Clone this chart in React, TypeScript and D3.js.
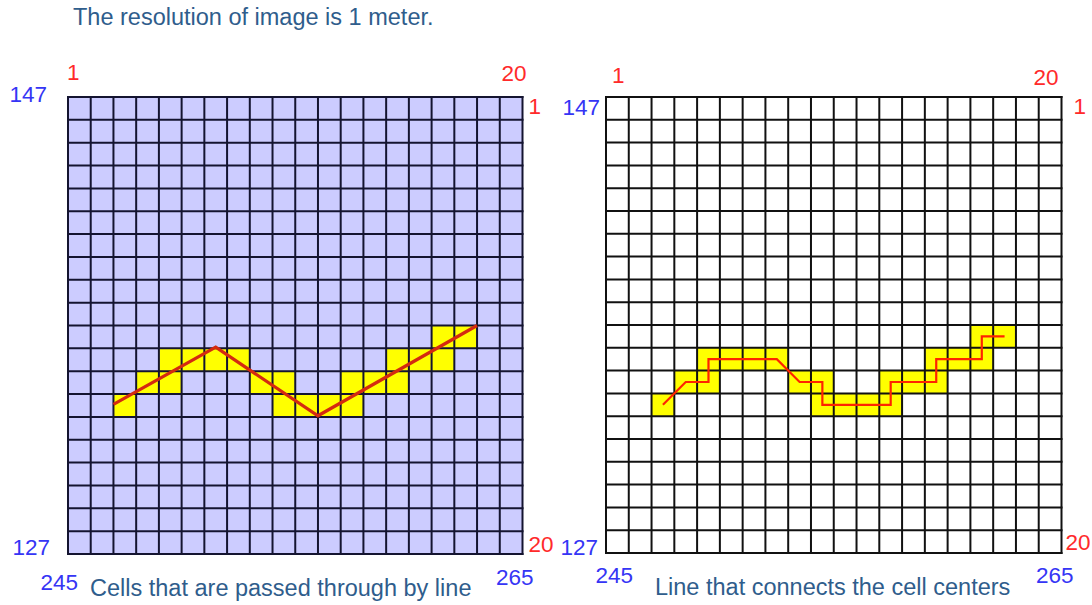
import React from "react";
import * as d3 from "d3";

// ---------- data ----------
const GRID_N = 20;
// yellow cells (column index 0-19, row index 0-19) in path order
const pathCellCols = [2, 3, 4, 4, 5, 6, 7, 8, 9, 9, 10, 11, 12, 12, 13, 14, 14, 15, 16, 16, 17];
const pathCellRows = [13, 12, 12, 11, 11, 11, 11, 12, 12, 13, 13, 13, 13, 12, 12, 12, 11, 11, 11, 10, 10];
// vertices of the original polyline in grid units
const lineX = [2.0, 6.5, 11.0, 18.0];
const lineY = [13.45, 10.95, 13.95, 10.0];
// labels
const colLabels = ["1", "20"];
const rowLabels = ["1", "20"];
const eastLabels = ["245", "265"];
const northLabels = ["147", "127"];
const titleText = "The resolution of image is 1 meter.";
const captions = ["Cells that are passed through by line", "Line that connects the cell centers"];

// ---------- layout ----------
const W = 1092, H = 605;
const FONT = "'Liberation Sans', Arial, sans-serif";
const BLUE = "#3535f5";
const RED = "#ff2a2a";
const TEXT = "#2f5d8c";

const panels = [
  {
    x0: 68, x1: 522.5, y0: 97, y1: 554, fill: "#ccccff", gridColor: "#141430",
    lineColor: "#d42a10", lineWidth: 3.2, mode: "line", captionX: 90, captionY: 596,
    off: { topL: [-1, -17], topR: [4, -16], rightT: [6, 17], leftT: [-21, 5], leftB: [-18, 1], rightB: [6, -2], botL: [10, 36], botR: [11, 31] },
  },
  {
    x0: 606, x1: 1061.5, y0: 97, y1: 553, fill: "#ffffff", gridColor: "#111111",
    lineColor: "#ff2400", lineWidth: 2.2, mode: "centers", captionX: 655, captionY: 595,
    off: { topL: [6, -14], topR: [-3, -12], rightT: [12, 17], leftT: [-6, 18], leftB: [-8, 2], rightB: [4, -3], botL: [27, 30], botR: [12, 30] },
  },
];

function Panel({ p, idx }: { p: any; idx: number }) {
  const x = d3.scaleLinear().domain([0, GRID_N]).range([p.x0, p.x1]);
  const y = d3.scaleLinear().domain([0, GRID_N]).range([p.y0, p.y1]);
  const ticks = d3.range(0, GRID_N + 1);
  const cells = pathCellCols.map((c, i) => ({ c, r: pathCellRows[i] }));
  const lineGen = d3.line<[number, number]>().x((d) => x(d[0])).y((d) => y(d[1]));
  const pts: [number, number][] =
    p.mode === "line"
      ? lineX.map((v, i) => [v, lineY[i]])
      : cells.map((d) => [d.c + 0.5, d.r + 0.5]);
  const o = p.off;
  const num = { fontFamily: FONT, fontSize: 22.5 } as any;
  return (
    <g>
      <rect x={p.x0} y={p.y0} width={p.x1 - p.x0} height={p.y1 - p.y0} fill={p.fill} />
      {cells.map((d, i) => (
        <rect key={i} x={x(d.c)} y={y(d.r)} width={x(d.c + 1) - x(d.c)} height={y(d.r + 1) - y(d.r)} fill="#ffff00" />
      ))}
      {ticks.map((t) => (
        <line key={"v" + t} x1={x(t)} x2={x(t)} y1={p.y0 - 1} y2={p.y1 + 1} stroke={p.gridColor} strokeWidth={2} />
      ))}
      {ticks.map((t) => (
        <line key={"h" + t} x1={p.x0 - 1} x2={p.x1 + 1} y1={y(t)} y2={y(t)} stroke={p.gridColor} strokeWidth={2} />
      ))}
      <path d={lineGen(pts) || ""} fill="none" stroke={p.lineColor} strokeWidth={p.lineWidth} strokeLinejoin="miter" />
      {/* column labels */}
      <text x={p.x0 + o.topL[0]} y={p.y0 + o.topL[1]} fill={RED} {...num}>{colLabels[0]}</text>
      <text x={p.x1 + o.topR[0]} y={p.y0 + o.topR[1]} fill={RED} textAnchor="end" {...num}>{colLabels[1]}</text>
      {/* row labels */}
      <text x={p.x1 + o.rightT[0]} y={p.y0 + o.rightT[1]} fill={RED} {...num}>{rowLabels[0]}</text>
      <text x={p.x1 + o.rightB[0]} y={p.y1 + o.rightB[1]} fill={RED} {...num}>{rowLabels[1]}</text>
      {/* northing */}
      <text x={p.x0 + o.leftT[0]} y={p.y0 + o.leftT[1]} fill={BLUE} textAnchor="end" {...num}>{northLabels[0]}</text>
      <text x={p.x0 + o.leftB[0]} y={p.y1 + o.leftB[1]} fill={BLUE} textAnchor="end" {...num}>{northLabels[1]}</text>
      {/* easting */}
      <text x={p.x0 + o.botL[0]} y={p.y1 + o.botL[1]} fill={BLUE} textAnchor="end" {...num}>{eastLabels[0]}</text>
      <text x={p.x1 + o.botR[0]} y={p.y1 + o.botR[1]} fill={BLUE} textAnchor="end" {...num}>{eastLabels[1]}</text>
      <text x={p.captionX} y={p.captionY} fill={TEXT} fontFamily={FONT} fontSize={23.5}>{captions[idx]}</text>
    </g>
  );
}

export default function App() {
  return (
    <svg width={W} height={H} style={{ position: "absolute", left: 0, top: 0, background: "#fff" }}>
      <rect x={0} y={0} width={W} height={H} fill="#fff" />
      <text x={73} y={25} fill={TEXT} fontFamily={FONT} fontSize={23.5}>{titleText}</text>
      {panels.map((p, i) => (
        <Panel key={i} p={p} idx={i} />
      ))}
    </svg>
  );
}
